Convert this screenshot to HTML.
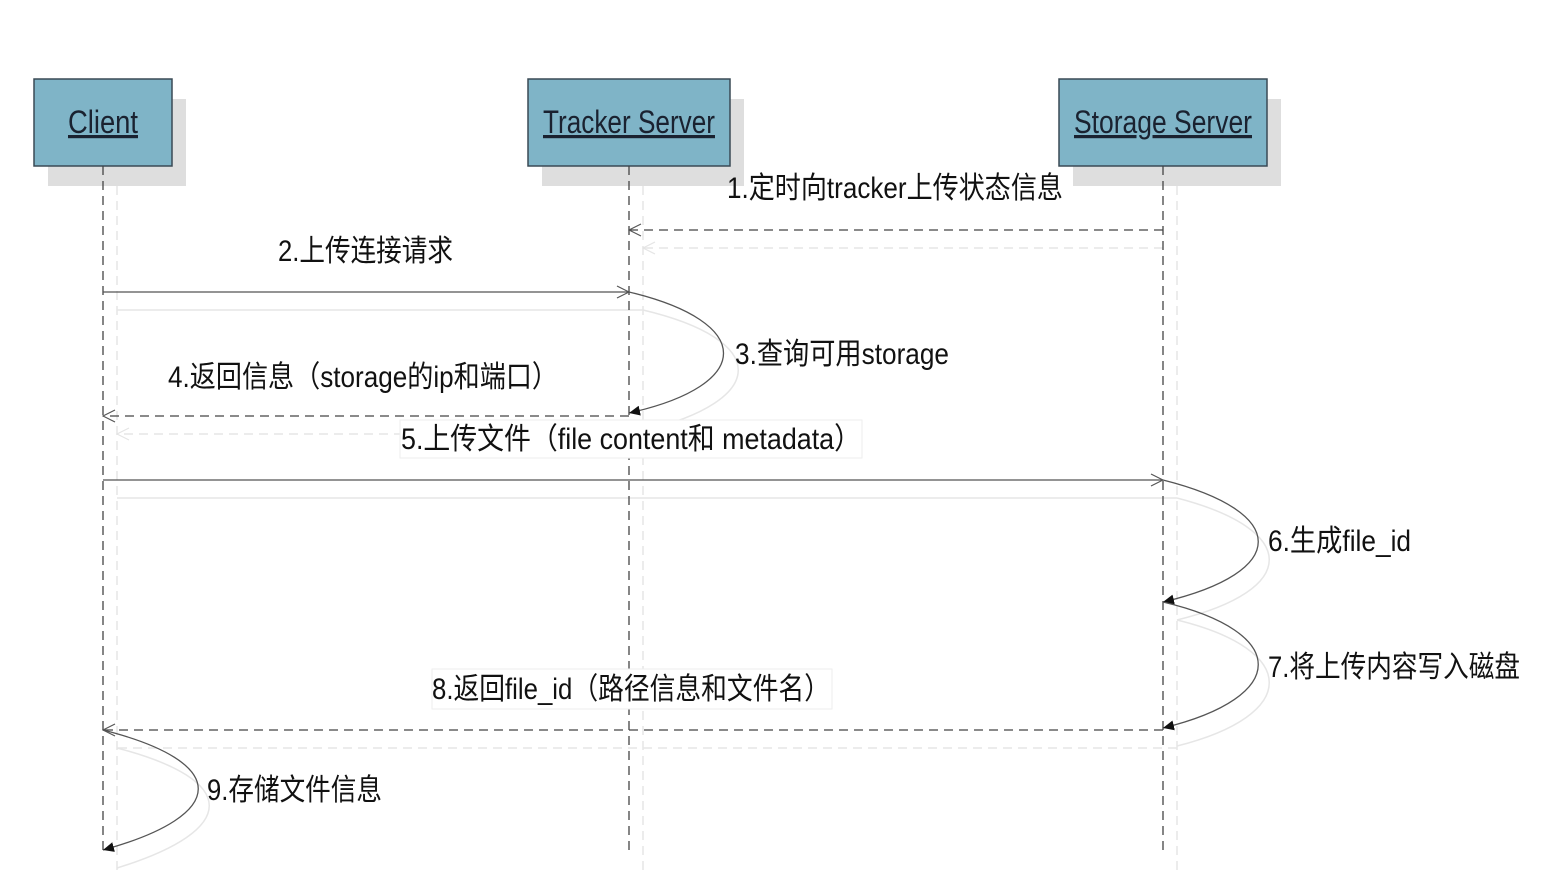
<!DOCTYPE html>
<html><head><meta charset="utf-8"><style>html,body{margin:0;padding:0;background:#fff}svg{display:block}</style></head><body>
<svg width="1568" height="870" viewBox="0 0 1568 870" xmlns="http://www.w3.org/2000/svg" font-family="Liberation Sans, Noto Sans CJK SC, sans-serif">
<defs>
<marker id="open" markerWidth="14" markerHeight="14" refX="13" refY="7" orient="auto" markerUnits="userSpaceOnUse"><path d="M1,1 L13,7 L1,13" fill="none" stroke="#555" stroke-width="1.2"/></marker>
<marker id="openg" markerWidth="14" markerHeight="14" refX="13" refY="7" orient="auto" markerUnits="userSpaceOnUse"><path d="M1,1 L13,7 L1,13" fill="none" stroke="#e4e4e4" stroke-width="1.2"/></marker>
<marker id="fill" markerWidth="12" markerHeight="12" refX="11" refY="6" orient="auto" markerUnits="userSpaceOnUse"><path d="M0,1 L11,6 L0,11 z" fill="#111"/></marker>
</defs>
<g fill="#dedede"><rect x="48" y="99" width="138" height="87"/><rect x="542" y="99" width="202" height="87"/><rect x="1073" y="99" width="208" height="87"/></g>
<g stroke="#e6e6e6" stroke-width="1.5" stroke-dasharray="9,6" fill="none">
<line x1="117" y1="186" x2="117" y2="870"/><line x1="643" y1="186" x2="643" y2="870"/><line x1="1177" y1="186" x2="1177" y2="870"/>
<line x1="1163" y1="248" x2="643" y2="248" marker-end="url(#openg)"/>
<line x1="643" y1="434" x2="117" y2="434" marker-end="url(#openg)"/>
<line x1="1177" y1="748" x2="117" y2="748"/>
</g>
<g stroke="#e6e6e6" stroke-width="1.5" fill="none">
<line x1="117" y1="310" x2="643" y2="310"/>
<line x1="117" y1="498" x2="1177" y2="498"/>
<path d="M643,310 C770,340 770,400 643,431"/>
<path d="M1177,498 C1300,530 1300,590 1177,620"/>
<path d="M1177,620 C1300,650 1300,715 1177,746"/>
<path d="M117,748 C240,780 240,830 117,868"/>
</g>
<g fill="#7fb4c7" stroke="#3a4a55" stroke-width="1.5"><rect x="34" y="79" width="138" height="87"/><rect x="528" y="79" width="202" height="87"/><rect x="1059" y="79" width="208" height="87"/></g>
<g font-size="32" fill="#1a2230" text-anchor="middle" text-decoration="underline">
<text x="103" y="133" textLength="70" lengthAdjust="spacingAndGlyphs">Client</text>
<text x="629" y="133" textLength="172" lengthAdjust="spacingAndGlyphs">Tracker Server</text>
<text x="1163" y="133" textLength="178" lengthAdjust="spacingAndGlyphs">Storage Server</text>
</g>
<g stroke="#444" stroke-width="1.3" stroke-dasharray="9,6" fill="none">
<line x1="103" y1="166" x2="103" y2="855"/><line x1="629" y1="166" x2="629" y2="855"/><line x1="1163" y1="166" x2="1163" y2="855"/>
<line x1="1163" y1="230" x2="629" y2="230" marker-end="url(#open)"/>
<line x1="629" y1="416" x2="103" y2="416" marker-end="url(#open)"/>
<line x1="1163" y1="730" x2="103" y2="730" marker-end="url(#open)"/>
</g>
<g stroke="#555" stroke-width="1.3" fill="none">
<line x1="103" y1="292" x2="629" y2="292" marker-end="url(#open)"/>
<line x1="103" y1="480" x2="1163" y2="480" marker-end="url(#open)"/>
<path d="M629,292 C755,322 755,385 629,413" marker-end="url(#fill)"/>
<path d="M1163,480 C1290,512 1290,572 1163,602" marker-end="url(#fill)"/>
<path d="M1163,602 C1290,632 1290,697 1163,728" marker-end="url(#fill)"/>
<path d="M103,730 C230,762 230,815 103,850" marker-end="url(#fill)"/>
</g>
<g fill="#fff" stroke="#eee" stroke-width="1">
<rect x="400" y="420" width="462" height="38"/>
<rect x="432" y="669" width="400" height="40"/>
</g>
<g font-size="30" fill="#111">
<text x="727" y="198" textLength="336" lengthAdjust="spacingAndGlyphs">1.定时向tracker上传状态信息</text>
<text x="278" y="261" textLength="175" lengthAdjust="spacingAndGlyphs">2.上传连接请求</text>
<text x="735" y="364" textLength="214" lengthAdjust="spacingAndGlyphs">3.查询可用storage</text>
<text x="168" y="387" textLength="390" lengthAdjust="spacingAndGlyphs">4.返回信息（storage的ip和端口）</text>
<text x="401" y="449" textLength="460" lengthAdjust="spacingAndGlyphs">5.上传文件（file content和 metadata）</text>
<text x="1268" y="551" textLength="143" lengthAdjust="spacingAndGlyphs">6.生成file_id</text>
<text x="1268" y="677" textLength="252" lengthAdjust="spacingAndGlyphs">7.将上传内容写入磁盘</text>
<text x="432" y="699" textLength="398" lengthAdjust="spacingAndGlyphs">8.返回file_id（路径信息和文件名）</text>
<text x="207" y="800" textLength="175" lengthAdjust="spacingAndGlyphs">9.存储文件信息</text>
</g>
</svg>
</body></html>
